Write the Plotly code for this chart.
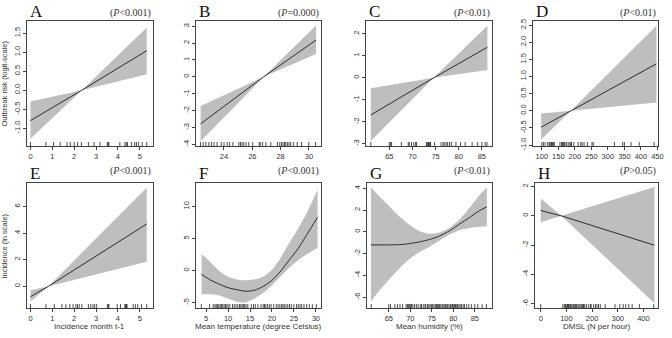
import plotly.graph_objects as go

# ---------------- data ----------------
# A: outbreak risk vs incidence month t-1
A_x = [0.0, 2.35, 5.32]
A_fit = [-0.80, 0.0, 1.04]
A_up = [-0.30, 0.0, 1.65]
A_lo = [-1.28, 0.0, 0.42]
A_rug = [0, 0.71, 1.06, 1.36, 1.67, 1.82, 2.0, 2.15, 2.33, 2.65, 2.91, 3.18, 3.52, 3.56, 3.59,
         4.09, 4.32, 4.38, 4.44, 4.62, 4.77, 4.85, 4.95, 5.11, 5.32]

# B: outbreak risk vs mean temperature
B_x = [22.35, 26.8, 30.5]
B_fit = [-2.78, 0.0, 2.18]
B_up = [-1.73, 0.0, 3.04]
B_lo = [-3.81, 0.0, 1.35]
B_rug = [22.34, 22.53, 22.72, 22.93, 23.11, 23.3, 23.51, 23.81, 24.0, 24.23, 24.4, 24.63, 25.05,
         25.17, 25.28, 25.4, 25.56, 25.75, 26.03, 26.49, 26.56, 26.73, 26.96, 27.31, 27.78, 27.94,
         28.06, 28.17, 28.27, 28.36, 28.48, 28.59, 28.71, 28.9, 29.17, 29.48, 29.99, 30.46]

# C: outbreak risk vs mean humidity
C_x = [61.0, 74.6, 86.2]
C_fit = [-1.69, 0.0, 1.39]
C_up = [-0.47, 0.0, 2.37]
C_lo = [-2.88, 0.0, 0.36]
C_rug = [61.0, 65.0, 65.3, 65.5, 67.6, 69.1, 69.3, 69.8, 70.3, 70.7, 70.9, 73.0, 73.2, 73.4, 73.5,
         73.6, 73.8, 73.9, 74.8, 76.2, 76.6, 76.9, 77.3, 77.6, 78.0, 78.4, 79.4, 80.4, 81.4, 82.9,
         84.1, 85.0, 85.7, 86.1]

# D: outbreak risk vs DMSL
D_x = [98, 188, 447]
D_fit = [-0.48, 0.0, 1.37]
D_up = [-0.08, 0.0, 2.48]
D_lo = [-0.84, 0.0, 0.24]
D_rug = [100, 105, 110, 118, 122, 125, 128, 130, 132, 135, 138, 155, 160, 163, 165, 168, 170, 175,
         180, 185, 188, 190, 197, 210, 218, 222, 228, 238, 252, 256, 320, 345, 350, 370, 395, 440]

# E: incidence vs incidence month t-1
E_x = [0.0, 0.83, 5.32]
E_fit = [-0.79, 0.0, 4.69]
E_up = [-0.30, 0.0, 7.43]
E_lo = [-1.16, 0.0, 1.85]
E_rug = [0, 0.71, 1.09, 1.44, 1.62, 1.8, 1.95, 2.08, 2.15, 2.23, 2.35, 2.65, 2.76, 2.86, 2.94, 3.03,
         3.52, 3.56, 3.59, 3.97, 4.12, 4.32, 4.35, 4.39, 4.42, 4.7, 4.8, 4.91, 5.08, 5.32]

# F: incidence vs mean temperature
F_x = [3.96, 6, 8, 10, 12, 14, 16, 18, 20, 22, 24, 26, 28, 30.4]
F_fit = [-0.62, -1.5, -2.15, -2.7, -3.0, -3.25, -3.1, -2.5, -1.55, -0.1, 1.7, 3.45, 5.65, 8.3]
F_up = [2.55, 1.27, -0.1, -1.0, -1.4, -1.53, -1.42, -1.0, 0.1, 2.0, 4.35, 6.6, 9.05, 12.6]
F_lo = [-3.74, -3.72, -3.9, -4.4, -4.9, -5.0, -4.4, -3.5, -2.3, -0.9, 0.45, 1.6, 2.55, 3.55]
F_rug = [3.9, 5.8, 6.6, 7.0, 7.3, 7.6, 7.9, 8.2, 8.5, 8.8, 9.1, 9.4, 9.7, 10.0, 10.4, 11.0, 11.4,
         11.8, 12.2, 12.6, 12.9, 13.2, 13.5, 13.8, 14.1, 14.5, 15.3, 15.8, 16.2, 16.8, 17.5, 18.0,
         18.3, 18.6, 19.0, 19.4, 19.8, 20.4, 21.0, 21.4, 21.8, 22.2, 22.5, 22.8, 23.2, 23.6, 24.0,
         24.4, 25.0, 25.6, 26.0, 26.4, 26.8, 27.3, 27.9, 28.5, 29.2, 30.1]

# G: incidence vs mean humidity
G_x = [60.84, 62.9, 65.2, 67.5, 69.8, 72.2, 74.5, 76.8, 79.1, 81.4, 83.7, 86.1, 87.8]
G_fit = [-1.2, -1.2, -1.2, -1.18, -1.08, -0.92, -0.7, -0.38, 0.1, 0.7, 1.3, 1.95, 2.3]
G_up = [4.07, 3.22, 2.32, 1.42, 0.66, 0.06, -0.18, -0.05, 0.36, 1.11, 2.17, 3.37, 4.07]
G_lo = [-6.41, -5.36, -4.31, -3.34, -2.5, -1.84, -1.36, -0.8, -0.25, 0.15, 0.35, 0.47, 0.51]
G_rug = [60.9, 65.0, 65.4, 66.4, 67.0, 67.6, 68.2, 69.0, 69.3, 69.5, 69.7, 69.9, 70.1, 70.3, 70.6,
         71.0, 71.4, 71.8, 72.3, 72.6, 73.0, 73.4, 73.6, 74.0, 74.3, 74.6, 74.9, 75.2, 75.5, 75.8,
         76.1, 76.3, 76.6, 76.8, 77.1, 77.4, 77.6, 77.9, 78.2, 78.5, 78.7, 79.0, 79.3, 79.5, 79.8,
         80.0, 80.3, 80.5, 80.8, 81.0, 81.3, 81.6, 81.9, 82.3, 82.6, 83.1, 83.6, 84.2, 85.0, 85.7,
         86.7, 87.7]

# H: incidence vs DMSL
H_x = [0, 80, 443]
H_fit = [0.36, 0.0, -2.01]
H_up = [1.19, 0.0, 1.97]
H_lo = [-0.44, 0.0, -5.97]
H_rug = [0, 86, 92, 96, 99, 103, 105, 108, 111, 115, 118, 122, 127, 130, 134, 137, 140, 145, 149,
         153, 158, 162, 166, 168, 172, 179, 187, 194, 196, 206, 213, 219, 225, 232, 251, 289, 308,
         321, 331, 343, 356, 384, 440]

# tick values
A_xt = [0, 1, 2, 3, 4, 5]
A_yt = [-1.0, -0.5, 0.0, 0.5, 1.0, 1.5]
B_xt = [24, 26, 28, 30]
B_yt = [-4, -3, -2, -1, 0, 1, 2, 3]
C_xt = [65, 70, 75, 80, 85]
C_yt = [-3, -2, -1, 0, 1, 2]
D_xt = [100, 150, 200, 250, 300, 350, 400, 450]
D_yt = [-1.0, -0.5, 0.0, 0.5, 1.0, 1.5, 2.0, 2.5]
E_xt = [0, 1, 2, 3, 4, 5]
E_yt = [0, 2, 4, 6]
F_xt = [5, 10, 15, 20, 25, 30]
F_yt = [-5, 0, 5, 10]
G_xt = [65, 70, 75, 80, 85]
G_yt = [-6, -4, -2, 0, 2, 4]
H_xt = [0, 100, 200, 300, 400]
H_yt = [-6, -4, -2, 0, 2]

letters = ["A", "B", "C", "D", "E", "F", "G", "H"]
p_texts = ["<0.001", "=0.000", "<0.01", "<0.01", "<0.001", "<0.001", "<0.01", ">0.05"]
x_titles = ["Incidence month t-1", "Mean temperature (degree Celsius)",
            "Mean humidity (%)", "DMSL (N per hour)"]
y_titles = ["Outbreak risk (logit-scale)", "Incidence (ln scale)"]

# ---------------- layout ----------------
W, H = 672, 338
panels = [
    dict(x=A_x, fit=A_fit, up=A_up, lo=A_lo, rug=A_rug, xt=A_xt, yt=A_yt, yd=1, smooth=False,
         xr=[-0.17, 5.59], yr=[-1.48, 1.83], box=(27, 154, 19, 147)),
    dict(x=B_x, fit=B_fit, up=B_up, lo=B_lo, rug=B_rug, xt=B_xt, yt=B_yt, yd=0, smooth=False,
         xr=[22.04, 30.86], yr=[-4.12, 3.33], box=(198, 324, 19, 147)),
    dict(x=C_x, fit=C_fit, up=C_up, lo=C_lo, rug=C_rug, xt=C_xt, yt=C_yt, yd=0, smooth=False,
         xr=[59.9, 87.1], yr=[-3.12, 2.6], box=(369, 496, 19, 147)),
    dict(x=D_x, fit=D_fit, up=D_up, lo=D_lo, rug=D_rug, xt=D_xt, yt=D_yt, yd=1, smooth=False,
         xr=[74, 452], yr=[-1.04, 2.63], box=(538, 664, 19, 147)),
    dict(x=E_x, fit=E_fit, up=E_up, lo=E_lo, rug=E_rug, xt=E_xt, yt=E_yt, yd=0, smooth=False,
         xr=[-0.17, 5.59], yr=[-1.68, 7.8], box=(27, 154, 184, 312)),
    dict(x=F_x, fit=F_fit, up=F_up, lo=F_lo, rug=F_rug, xt=F_xt, yt=F_yt, yd=0, smooth=True,
         xr=[2.74, 31.2], yr=[-5.94, 13.7], box=(198, 324, 184, 312)),
    dict(x=G_x, fit=G_fit, up=G_up, lo=G_lo, rug=G_rug, xt=G_xt, yt=G_yt, yd=0, smooth=True,
         xr=[59.85, 88.9], yr=[-7.05, 4.52], box=(370, 496, 184, 312)),
    dict(x=H_x, fit=H_fit, up=H_up, lo=H_lo, rug=H_rug, xt=H_xt, yt=H_yt, yd=0, smooth=False,
         xr=[-21.7, 457], yr=[-6.33, 2.26], box=(540, 664, 184, 312)),
]


def fmt(v, d):
    return f"{v:.{d}f}"  # plain hyphen-minus like R


fig = go.Figure()
layout = dict(width=W, height=H, margin=dict(l=0, r=0, t=0, b=0),
              paper_bgcolor="white", plot_bgcolor="white", showlegend=False)
shapes, annotations = [], []
AX = "#444444"
tickfont = dict(family="Liberation Sans, Arial, sans-serif", size=7.5, color="#333333")

for i, p in enumerate(panels):
    n = i + 1
    xa = "x" if n == 1 else f"x{n}"
    ya = "y" if n == 1 else f"y{n}"
    l, r, t, b = p["box"]
    shp = dict(shape="spline", smoothing=0.6) if p["smooth"] else dict(shape="linear")
    fig.add_trace(go.Scatter(x=p["x"], y=p["lo"], mode="lines",
                             line=dict(width=0, color="#bebebe", **shp),
                             xaxis=xa, yaxis=ya, hoverinfo="skip"))
    fig.add_trace(go.Scatter(x=p["x"], y=p["up"], mode="lines",
                             line=dict(width=0, color="#bebebe", **shp),
                             fill="tonexty", fillcolor="#bebebe", xaxis=xa, yaxis=ya,
                             hoverinfo="skip"))
    fig.add_trace(go.Scatter(x=p["x"], y=p["fit"], mode="lines",
                             line=dict(width=1, color="#2b2b2b", **shp),
                             xaxis=xa, yaxis=ya))
    axcommon = dict(showline=True, mirror=True, linecolor=AX, linewidth=0.8, showgrid=False,
                    zeroline=False, ticks="outside", ticklen=3, tickwidth=0.8, tickcolor=AX,
                    tickfont=tickfont)
    layout["xaxis" if n == 1 else f"xaxis{n}"] = dict(
        domain=[l / W, r / W], range=p["xr"], anchor=ya,
        tickvals=p["xt"], ticktext=[fmt(v, 0) for v in p["xt"]], **axcommon)
    layout["yaxis" if n == 1 else f"yaxis{n}"] = dict(
        domain=[1 - b / H, 1 - t / H], range=p["yr"], anchor=xa, tickangle=-90,
        tickvals=p["yt"], ticktext=[fmt(v, p["yd"]) for v in p["yt"]], **axcommon)
    # rug
    for v in p["rug"]:
        shapes.append(dict(type="line", xref=xa, yref=f"{ya} domain", x0=v, x1=v, y0=0, y1=0.035,
                           line=dict(color="#222222", width=0.8)))
    # panel letter
    cy = 10 if t < 100 else 175
    annotations.append(dict(text=letters[i], x=(l + 1) / W, y=1 - cy / H, xref="paper", yref="paper",
                            xanchor="left", yanchor="middle", showarrow=False,
                            font=dict(family="Liberation Serif, Times New Roman, serif", size=17,
                                      color="#111111")))
    py = 11 if t < 100 else 172
    annotations.append(dict(text=f"(<i>P</i>{p_texts[i]})", x=r / W, y=1 - py / H, xref="paper",
                            yref="paper", xanchor="right", yanchor="middle", showarrow=False,
                            font=dict(family="Liberation Serif, Times New Roman, serif", size=10,
                                      color="#333333")))
    if t > 100:
        annotations.append(dict(text=x_titles[i - 4], x=(l + r) / 2 / W, y=1 - 330.5 / H,
                                xref="paper", yref="paper", xanchor="center", yanchor="middle",
                                showarrow=False,
                                font=dict(family="Liberation Sans, Arial, sans-serif", size=8,
                                          color="#333333")))

for k, (txt, cy) in enumerate(zip(y_titles, [83, 248])):
    annotations.append(dict(text=txt, x=5 / W, y=1 - cy / H, xref="paper", yref="paper",
                            xanchor="center", yanchor="middle", textangle=-90, showarrow=False,
                            font=dict(family="Liberation Sans, Arial, sans-serif", size=7.5,
                                      color="#333333")))

layout["shapes"] = shapes
layout["annotations"] = annotations
fig.update_layout(**layout)
fig.write_html("out.html", config={"displayModeBar": False},
               post_script="document.body.style.margin='0';")
